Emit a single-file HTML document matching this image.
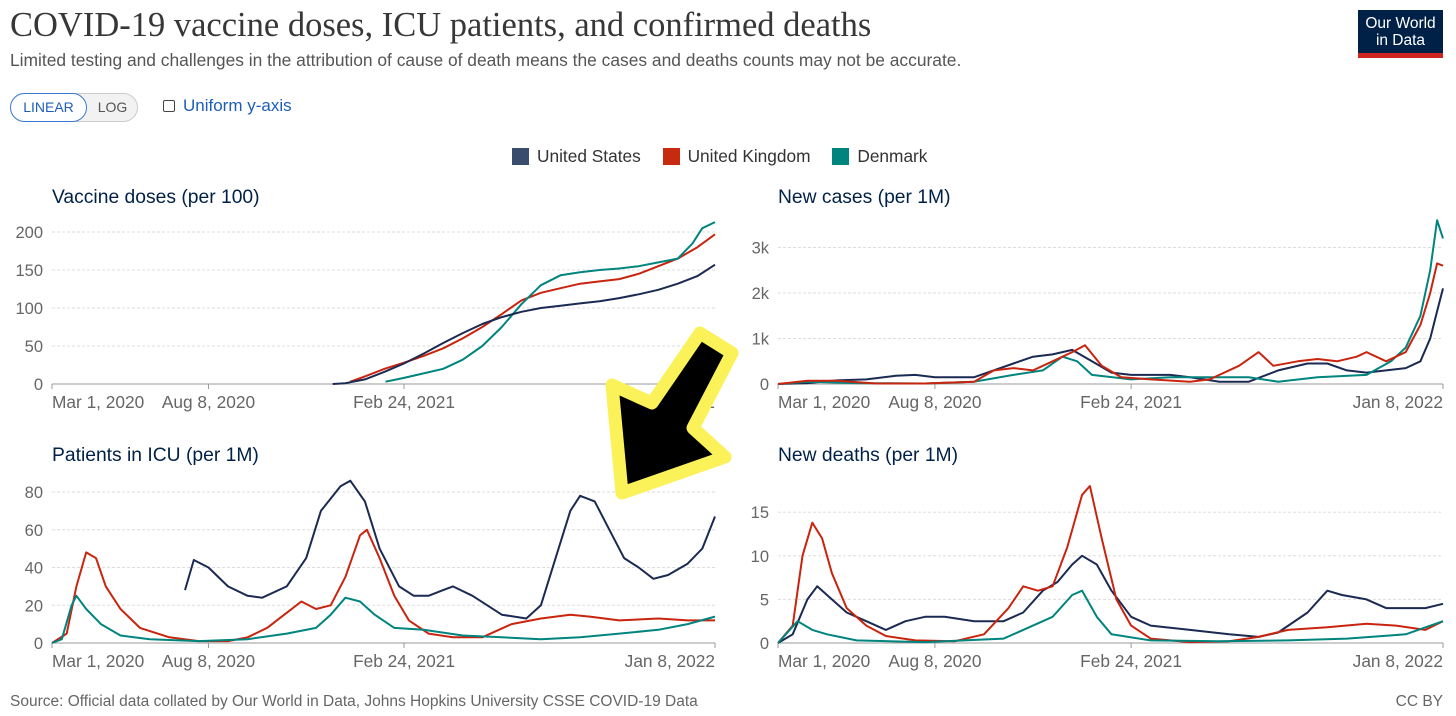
<!DOCTYPE html>
<html><head><meta charset="utf-8">
<style>
body{margin:0;background:#fff;font-family:"Liberation Sans",sans-serif;}
#wrap{position:relative;width:1456px;height:716px;overflow:hidden;}
.abs{position:absolute;white-space:nowrap;}
</style></head>
<body>
<div id="wrap">
<div class="abs" style="left:10px;top:6px;font-family:'Liberation Serif',serif;font-size:34.5px;color:#373737;">COVID-19 vaccine doses, ICU patients, and confirmed deaths</div>
<div class="abs" style="left:10px;top:50px;font-size:17.4px;color:#555;">Limited testing and challenges in the attribution of cause of death means the cases and deaths counts may not be accurate.</div>
<div class="abs" style="left:1358px;top:10px;width:85px;height:48px;background:#002147;color:#fff;font-size:15.5px;line-height:17px;text-align:center;box-sizing:border-box;padding-top:5px;border-bottom:5px solid #ce261e;">Our World<br>in Data</div>
<div class="abs" style="left:10px;top:93px;width:128px;height:29px;border:1px solid #ccc;border-radius:15px;box-sizing:border-box;background:#f2f2f2;"></div>
<div class="abs" style="left:10px;top:93px;width:77px;height:29px;border:1.5px solid #3d7bd0;border-radius:15px;box-sizing:border-box;background:#fff;color:#1d5fb8;font-size:14px;line-height:26px;text-align:center;">LINEAR</div>
<div class="abs" style="left:89px;top:93px;width:47px;height:29px;color:#555;font-size:14px;line-height:29px;text-align:center;">LOG</div>
<div class="abs" style="left:163px;top:100px;width:10px;height:10px;border:1.5px solid #444;border-radius:2px;"></div>
<div class="abs" style="left:183px;top:96px;font-size:17px;color:#1d5fb8;">Uniform y-axis</div>
<div class="abs" style="left:512px;top:146px;font-size:17.3px;color:#333;">
<span><span style="display:inline-block;width:17px;height:17px;background:#3a4c6e;vertical-align:-3px;margin-right:8px;"></span>United States</span>
<span style="margin-left:17px;"><span style="display:inline-block;width:17px;height:17px;background:#c62b10;vertical-align:-3px;margin-right:8px;"></span>United Kingdom</span>
<span style="margin-left:17px;"><span style="display:inline-block;width:17px;height:17px;background:#00847e;vertical-align:-3px;margin-right:8px;"></span>Denmark</span>
</div>
<svg id="chart" width="1456" height="716" style="position:absolute;left:0;top:0;" xmlns="http://www.w3.org/2000/svg"></svg>
<div class="abs" style="left:10px;top:693px;font-size:15.5px;color:#666;">Source: Official data collated by Our World in Data, Johns Hopkins University CSSE COVID-19 Data</div>
<div class="abs" style="right:13px;top:693px;font-size:15.5px;color:#666;">CC BY</div>
</div>
<script>
const xTickLabels=["Mar 1, 2020","Aug 8, 2020","Feb 24, 2021","Jan 8, 2022"];
const xTickDays=[0,160,360,678];
const totalDays=678;
// Vaccine doses
const vacUsDays=[287,300,320,340,360,380,400,420,440,460,480,500,520,540,560,580,600,620,640,660,678];
const vacUsVals=[0,1,6,16,27,40,54,67,79,88,95,100,103,106,109,113,118,124,132,142,157];
const vacUkDays=[305,320,340,360,380,400,420,440,460,480,500,520,540,560,580,600,620,640,660,678];
const vacUkVals=[3,10,20,28,37,47,60,75,92,110,120,126,132,135,138,145,155,165,180,197];
const vacDkDays=[341,360,380,400,420,440,460,480,500,520,540,560,580,600,620,640,655,665,678];
const vacDkVals=[3,8,14,20,32,50,75,105,130,143,147,150,152,155,160,165,185,205,213];
const vacTicks=[0,50,100,150,200];
// Cases (thousands per 1M)
const caseUsDays=[0,30,60,90,120,140,160,200,240,260,280,300,320,340,360,400,420,450,480,510,540,560,580,600,620,640,655,665,672,678];
const caseUsVals=[0,0.02,0.08,0.1,0.18,0.2,0.15,0.15,0.45,0.6,0.65,0.75,0.5,0.25,0.2,0.2,0.15,0.05,0.05,0.3,0.45,0.45,0.3,0.25,0.3,0.35,0.5,1.0,1.6,2.1];
const caseUkDays=[0,30,60,100,150,200,220,240,260,280,300,313,330,350,380,420,440,470,490,505,530,550,570,590,600,620,640,655,665,672,678];
const caseUkVals=[0,0.07,0.07,0.01,0.01,0.05,0.3,0.35,0.3,0.5,0.7,0.85,0.4,0.15,0.1,0.05,0.1,0.4,0.7,0.4,0.5,0.55,0.5,0.6,0.7,0.5,0.7,1.3,2.0,2.65,2.6];
const caseDkDays=[0,30,80,150,200,240,270,290,305,320,360,400,440,480,510,550,600,625,640,655,665,672,678];
const caseDkVals=[0,0.05,0.02,0.01,0.05,0.2,0.3,0.6,0.5,0.2,0.1,0.15,0.15,0.15,0.05,0.15,0.2,0.5,0.8,1.5,2.5,3.6,3.2];
const caseTicks=[0,1,2,3];
const caseTickLabels=["0","1k","2k","3k"];
// ICU
const icuUsDays=[136,145,160,180,200,215,240,260,275,295,305,320,335,355,370,385,400,410,430,460,485,500,515,530,540,555,570,585,600,615,630,650,665,678];
const icuUsVals=[28,44,40,30,25,24,30,45,70,83,86,75,50,30,25,25,28,30,25,15,13,20,45,70,78,75,60,45,40,34,36,42,50,67];
const icuUkDays=[0,15,25,35,45,55,70,90,120,150,180,200,220,240,255,270,285,300,315,322,335,350,365,385,410,440,470,500,530,550,580,620,650,678];
const icuUkVals=[0,5,30,48,45,30,18,8,3,1,1,3,8,16,22,18,20,35,57,60,45,25,12,5,3,3,10,13,15,14,12,13,12,12];
const icuDkDays=[0,10,20,25,35,50,70,100,150,200,240,270,285,300,315,330,350,380,420,460,500,540,580,620,650,678];
const icuDkVals=[0,2,20,25,18,10,4,2,1,2,5,8,15,24,22,15,8,7,4,3,2,3,5,7,10,14];
const icuTicks=[0,20,40,60,80];
// Deaths
const dUsDays=[0,15,30,40,55,70,90,110,130,150,170,200,230,250,270,285,300,310,325,340,360,380,420,460,490,510,540,560,575,600,620,640,660,678];
const dUsVals=[0,1,5,6.5,5,3.5,2.5,1.5,2.5,3,3,2.5,2.5,3.5,6,7,9,10,9,6,3,2,1.5,1,0.7,1.2,3.5,6,5.5,5,4,4,4,4.5];
const dUkDays=[0,15,25,35,45,55,70,90,110,140,180,210,235,250,265,280,295,310,318,330,345,360,380,420,460,490,520,560,600,630,660,678];
const dUkVals=[0,2,10,13.8,12,8,4,2,0.8,0.3,0.2,1,4,6.5,6,6.5,11,17,18,12,5,2,0.5,0.1,0.2,0.7,1.5,1.8,2.2,2.0,1.5,2.5];
const dDkDays=[0,20,35,50,80,150,230,260,280,300,310,325,340,380,450,520,580,640,678];
const dDkVals=[0,2.5,1.5,1,0.3,0.1,0.5,2,3,5.5,6,3,1,0.3,0.2,0.3,0.5,1,2.5];
const dTicks=[0,5,10,15];

const NS="http://www.w3.org/2000/svg";
const svg=document.getElementById('chart');
function mk(tag,attrs,parent){const e=document.createElementNS(NS,tag);for(const k in attrs)e.setAttribute(k,attrs[k]);(parent||svg).appendChild(e);return e;}
const COL={us:'#1b2a52',uk:'#c9240e',dk:'#00847e'};

function panel(cfg){
  const g=mk('g',{});
  
  
  const xS=d=>cfg.x0+d/totalDays*(cfg.x1-cfg.x0);
  const yS=v=>cfg.y0-v/cfg.unit*cfg.unitPx;
  const t=mk('text',{x:cfg.x0,y:cfg.titleY,'font-size':19.3,fill:'#002147'},g);
  t.textContent=cfg.title;
  
  
  cfg.ticks.forEach((v,i)=>{
    const y=yS(v);
    const ln=mk('line',{x1:cfg.x0,x2:cfg.x1,y1:y,y2:y,stroke:v===0?'#999':'#ddd','stroke-dasharray':v===0?'':'3,2','stroke-width':1},g);
    
    
    const tx=mk('text',{x:cfg.x0-9,y:y+6,'font-size':16.5,fill:'#666','text-anchor':'end'},g);
    tx.textContent=cfg.tickLabels?cfg.tickLabels[i]:String(v);
    
    
  });
  xTickDays.forEach((d,i)=>{
    const x=xS(d);
    const anchor=i===0?'start':(i===xTickDays.length-1?'end':'middle');
    mk('line',{x1:x,x2:x,y1:cfg.y0,y2:cfg.y0+5,stroke:'#999'},g);
    const tx=mk('text',{x:x,y:cfg.y0+24,'font-size':17.3,fill:'#666','text-anchor':anchor},g);
    tx.textContent=xTickLabels[i];
    
    
  });
  cfg.series.forEach(s=>{
    let d='';
    s.days.forEach((dd,i)=>{d+=(i?'L':'M')+xS(dd).toFixed(1)+','+yS(s.vals[i]).toFixed(1);});
    const p=mk('path',{d:d,fill:'none',stroke:COL[s.c],'stroke-width':2,'stroke-linejoin':'round'},g);
    
    
  });
}
panel({name:'vaccine-panel',title:'Vaccine doses (per 100)',titleY:203,x0:52,x1:715,y0:384,unit:50,unitPx:38,ticks:vacTicks,
  series:[{c:'uk',days:vacUkDays,vals:vacUkVals},{c:'dk',days:vacDkDays,vals:vacDkVals},{c:'us',days:vacUsDays,vals:vacUsVals}]});
panel({name:'cases-panel',title:'New cases (per 1M)',titleY:203,x0:778,x1:1443,y0:384,unit:1,unitPx:45.5,ticks:caseTicks,tickLabels:caseTickLabels,
  series:[{c:'us',days:caseUsDays,vals:caseUsVals},{c:'dk',days:caseDkDays,vals:caseDkVals},{c:'uk',days:caseUkDays,vals:caseUkVals}]});
panel({name:'icu-panel',title:'Patients in ICU (per 1M)',titleY:461,x0:52,x1:715,y0:643,unit:20,unitPx:37.75,ticks:icuTicks,
  series:[{c:'us',days:icuUsDays,vals:icuUsVals},{c:'uk',days:icuUkDays,vals:icuUkVals},{c:'dk',days:icuDkDays,vals:icuDkVals}]});
panel({name:'deaths-panel',title:'New deaths (per 1M)',titleY:461,x0:778,x1:1443,y0:643,unit:5,unitPx:43.6,ticks:dTicks,
  series:[{c:'us',days:dUsDays,vals:dUsVals},{c:'uk',days:dUkDays,vals:dUkVals},{c:'dk',days:dDkDays,vals:dDkVals}]});

const arrow=mk('polygon',{points:'622,493 612,385 652,403 700,333 732,353 693,428 725,457',fill:'#000',stroke:'#fbf25a','stroke-width':13,'stroke-linejoin':'round'});


</script>
</body></html>
